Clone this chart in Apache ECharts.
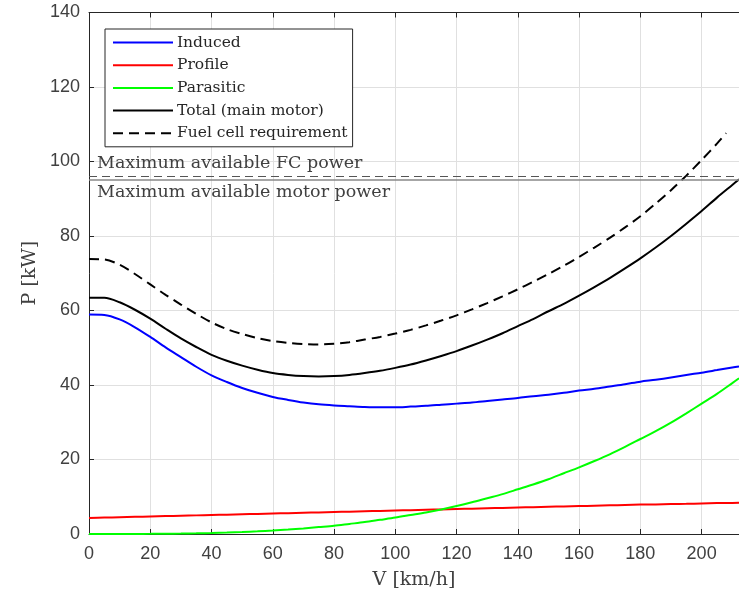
<!DOCTYPE html>
<html>
<head>
<meta charset="utf-8">
<script src="https://cdn.jsdelivr.net/npm/echarts@6/dist/echarts.min.js"></script>
<style>
html,body{margin:0;padding:0;background:#fff;}
#chart{width:739px;height:596px;}
</style>
</head>
<body>
<div id="chart"></div>
<script>
// ---- data ----
const speeds = [0, 5, 10, 15, 20, 25, 30, 35, 40, 45, 50, 55, 60, 65, 70, 75, 80, 85, 90, 95, 100, 105, 110, 115, 120, 125, 130, 135, 140, 145, 150, 155, 160, 165, 170, 175, 180, 185, 190, 195, 200, 205, 210, 212.2];
const induced = [58.9, 58.8, 57.6, 55.5, 52.9, 50.1, 47.5, 44.9, 42.6, 40.8, 39.2, 37.9, 36.8, 36.0, 35.3, 34.8, 34.5, 34.3, 34.1, 34.0, 34.0, 34.2, 34.4, 34.7, 35.0, 35.3, 35.7, 36.1, 36.5, 37.0, 37.4, 37.9, 38.5, 39.0, 39.6, 40.2, 40.9, 41.4, 42.0, 42.7, 43.3, 44.0, 44.7, 45.0];
const profile = [4.3, 4.4, 4.5, 4.6, 4.7, 4.8, 4.9, 5.0, 5.1, 5.2, 5.3, 5.4, 5.5, 5.6, 5.7, 5.8, 5.9, 6.0, 6.1, 6.2, 6.3, 6.4, 6.5, 6.6, 6.7, 6.8, 6.9, 7.0, 7.1, 7.2, 7.3, 7.4, 7.5, 7.6, 7.7, 7.8, 7.9, 7.95, 8.05, 8.1, 8.2, 8.3, 8.35, 8.4];
const parasitic = [0, 0, 0, 0.02, 0.04, 0.07, 0.12, 0.19, 0.28, 0.4, 0.55, 0.73, 0.95, 1.2, 1.5, 1.85, 2.2, 2.7, 3.2, 3.8, 4.4, 5.1, 5.8, 6.6, 7.5, 8.5, 9.6, 10.7, 12.0, 13.3, 14.7, 16.3, 17.9, 19.6, 21.4, 23.4, 25.5, 27.6, 29.9, 32.4, 35.0, 37.6, 40.5, 41.8];
const total = [63.4, 63.4, 62.2, 60.2, 57.8, 55.1, 52.5, 50.2, 48.1, 46.5, 45.2, 44.1, 43.2, 42.7, 42.4, 42.3, 42.4, 42.7, 43.2, 43.8, 44.6, 45.5, 46.6, 47.8, 49.1, 50.6, 52.2, 53.9, 55.8, 57.7, 59.8, 61.8, 64.0, 66.3, 68.7, 71.3, 74.0, 76.9, 80.0, 83.3, 86.7, 90.3, 93.7, 95.2];
const fcSpeeds = [0, 5, 10, 15, 20, 25, 30, 35, 40, 45, 50, 55, 60, 65, 70, 75, 80, 85, 90, 95, 100, 105, 110, 115, 120, 125, 130, 135, 140, 145, 150, 155, 160, 165, 170, 175, 180, 185, 190, 195, 200, 205, 208];
const fuelCell = [73.8, 73.7, 72.3, 69.8, 67.0, 64.2, 61.6, 59.1, 56.8, 55.0, 53.7, 52.6, 51.8, 51.3, 51.0, 50.9, 51.1, 51.5, 52.2, 52.9, 53.8, 54.8, 56.0, 57.3, 58.7, 60.3, 62.0, 63.8, 65.7, 67.7, 69.8, 72.0, 74.4, 76.9, 79.5, 82.3, 85.3, 88.7, 92.3, 96.2, 100.4, 104.8, 107.6];
const maxFcPower = 96;
const maxMotorPower = 95;
const seriesNames = ['Induced', 'Profile', 'Parasitic', 'Total (main motor)', 'Fuel cell requirement'];
const xLabel = 'V [km/h]';
const yLabel = 'P [kW]';
const fcLabel = 'Maximum available FC power';
const motorLabel = 'Maximum available motor power';

const pair = (xs, ys) => xs.map((x, i) => [x, ys[i]]);
const serif = '"DejaVu Serif", serif';
const sans = '"Liberation Sans", Arial, sans-serif';
const axisColor = '#262626';

const chart = echarts.init(document.getElementById('chart'), null, {renderer: 'canvas'});

function lineSeries(name, data, color, type, z) {
  return {
    name: name, type: 'line', data: data, smooth: 0.3, symbol: 'none',
    lineStyle: {color: color, width: 2, type: type || 'solid'},
    itemStyle: {color: color}, z: z || 3, animation: false
  };
}

const option = {
  animation: false,
  backgroundColor: '#fff',
  grid: {left: 89, right: 0, top: 12.5, bottom: 62, containLabel: false},
  legend: {
    left: 105, top: 29, orient: 'vertical',
    data: seriesNames,
    itemWidth: 60, itemHeight: 16, itemGap: 6.7,
    padding: [5.5, 5, 5.5, 7],
    borderColor: '#262626', borderWidth: 1, backgroundColor: '#fff',
    itemStyle: {opacity: 0},
    textStyle: {fontFamily: serif, fontSize: 15.5, lineHeight: 16, color: '#262626', padding: [0, 0, 0, -1]},
    inactiveColor: '#ccc'
  },
  xAxis: [{
    type: 'value', min: 0, max: 212.2, interval: 20,
    name: xLabel, nameLocation: 'middle', nameGap: 37,
    nameTextStyle: {fontFamily: serif, fontSize: 19, color: '#404040'},
    axisLine: {show: true, onZero: false, lineStyle: {color: axisColor, width: 1}},
    axisTick: {show: true, inside: true, length: 5, lineStyle: {color: axisColor}},
    axisLabel: {fontFamily: sans, fontSize: 18, color: '#404040', margin: 11, showMaxLabel: false},
    splitLine: {show: true, lineStyle: {color: '#e0e0e0', width: 1}}
  }, {
    type: 'value', min: 0, max: 212.2, interval: 20, position: 'top',
    axisLine: {show: true, onZero: false, lineStyle: {color: axisColor, width: 1}},
    axisTick: {show: true, inside: true, length: 5, lineStyle: {color: axisColor}},
    axisLabel: {show: false}, splitLine: {show: false}
  }],
  yAxis: {
    type: 'value', min: 0, max: 140, interval: 20,
    name: yLabel, nameLocation: 'middle', nameGap: 40, nameRotate: 90,
    nameTextStyle: {fontFamily: serif, fontSize: 19, color: '#404040'},
    axisLine: {show: true, onZero: false, lineStyle: {color: axisColor, width: 1}},
    axisTick: {show: true, inside: true, length: 5, lineStyle: {color: axisColor}},
    axisLabel: {fontFamily: sans, fontSize: 18, color: '#404040', margin: 9},
    splitLine: {show: true, lineStyle: {color: '#e0e0e0', width: 1}}
  },
  series: [
    lineSeries(seriesNames[0], pair(speeds, induced), '#0000ff'),
    lineSeries(seriesNames[1], pair(speeds, profile), '#ff0000'),
    lineSeries(seriesNames[2], pair(speeds, parasitic), '#00ff00'),
    lineSeries(seriesNames[3], pair(speeds, total), '#000000'),
    Object.assign(lineSeries(seriesNames[4], pair(fcSpeeds, fuelCell), '#000000', [10, 6]), {
      markLine: {
        silent: true, symbol: 'none', animation: false,
        data: [
          {yAxis: maxFcPower, lineStyle: {color: '#555', width: 1, type: [8, 5]},
           label: {show: true, position: 'insideStartTop', formatter: fcLabel, fontFamily: serif, fontSize: 17.5, color: '#404040', distance: [8, 4]}},
          {yAxis: maxMotorPower, lineStyle: {color: '#888', width: 1.5, type: 'solid'},
           label: {show: true, position: 'insideStartBottom', formatter: motorLabel, fontFamily: serif, fontSize: 17.5, color: '#404040', distance: [8, 3]}}
        ]
      }
    })
  ]
};
chart.setOption(option);
</script>
</body>
</html>
